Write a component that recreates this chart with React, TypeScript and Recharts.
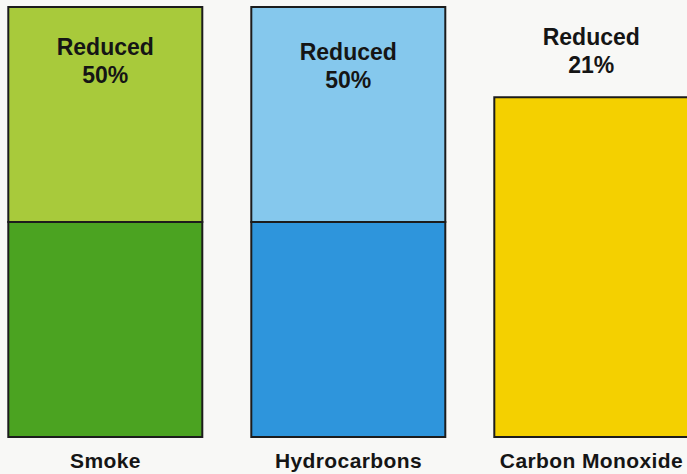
import { BarChart, Bar, XAxis, YAxis, Cell, LabelList } from 'recharts';

const categories = ['Smoke', 'Hydrocarbons', 'Carbon Monoxide'];
const remaining = [50, 50, 79];
const reduced = [50, 50, 21];

const remainingColors = ['#4ba321', '#2e95dc', '#f4d000'];
const reducedColors = ['#a8ca3b', '#85c8ed', 'none'];
// baseline of "Reduced" below top of segment
const labelOffsets = [48, 53, 38];

const data = categories.map((name, i) => ({ name, remaining: remaining[i], reduced: reduced[i] }));

const FONT = '"Liberation Sans", Arial, Helvetica, sans-serif';

const ReducedLabel = (props: any) => {
    const { x, y, width, value, index } = props;
    const cx = x + width / 2;
    const top = y + labelOffsets[index ?? 0];
    return (
        <g>
            <text x={cx} y={top} textAnchor="middle" fill="#151515" fontSize={23} fontWeight="bold" fontFamily={FONT}>
                Reduced
            </text>
            <text x={cx} y={top + 28} textAnchor="middle" fill="#151515" fontSize={23} fontWeight="bold" fontFamily={FONT}>
                {value}%
            </text>
        </g>
    );
};

const CategoryTick = (props: any) => {
    const { x, y, payload } = props;
    return (
        <text x={x} y={y} dy={11} textAnchor="middle" fill="#151515" fontSize={21} fontWeight="bold" letterSpacing={0.4} fontFamily={FONT}>
            {payload.value}
        </text>
    );
};

export default function App() {
    return (
        <div style={{ position: 'absolute', left: 0, top: 0, width: 687, height: 474, overflow: 'hidden', background: '#f8f8f6' }}>
            <div style={{ position: 'absolute', left: -16, top: 0 }}>
                <BarChart width={729} height={474} data={data} margin={{ top: 7, right: 0, bottom: 0, left: 0 }} barCategoryGap="10%">
                    <XAxis dataKey="name" axisLine={false} tickLine={false} tickSize={0} tickMargin={20} height={37} interval={0} tick={<CategoryTick />} />
                    <YAxis hide domain={[0, 100]} />
                    <Bar dataKey="remaining" stackId="a" isAnimationActive={false}>
                        {data.map((d, i) => (
                            <Cell key={d.name} fill={remainingColors[i]} stroke="#1c1c1c" strokeWidth={2} />
                        ))}
                    </Bar>
                    <Bar dataKey="reduced" stackId="a" isAnimationActive={false}>
                        {data.map((d, i) => (
                            <Cell key={d.name} fill={reducedColors[i]} stroke={reducedColors[i] === 'none' ? 'none' : '#1c1c1c'} strokeWidth={2} />
                        ))}
                        <LabelList dataKey="reduced" content={<ReducedLabel />} />
                    </Bar>
                </BarChart>
            </div>
        </div>
    );
}
